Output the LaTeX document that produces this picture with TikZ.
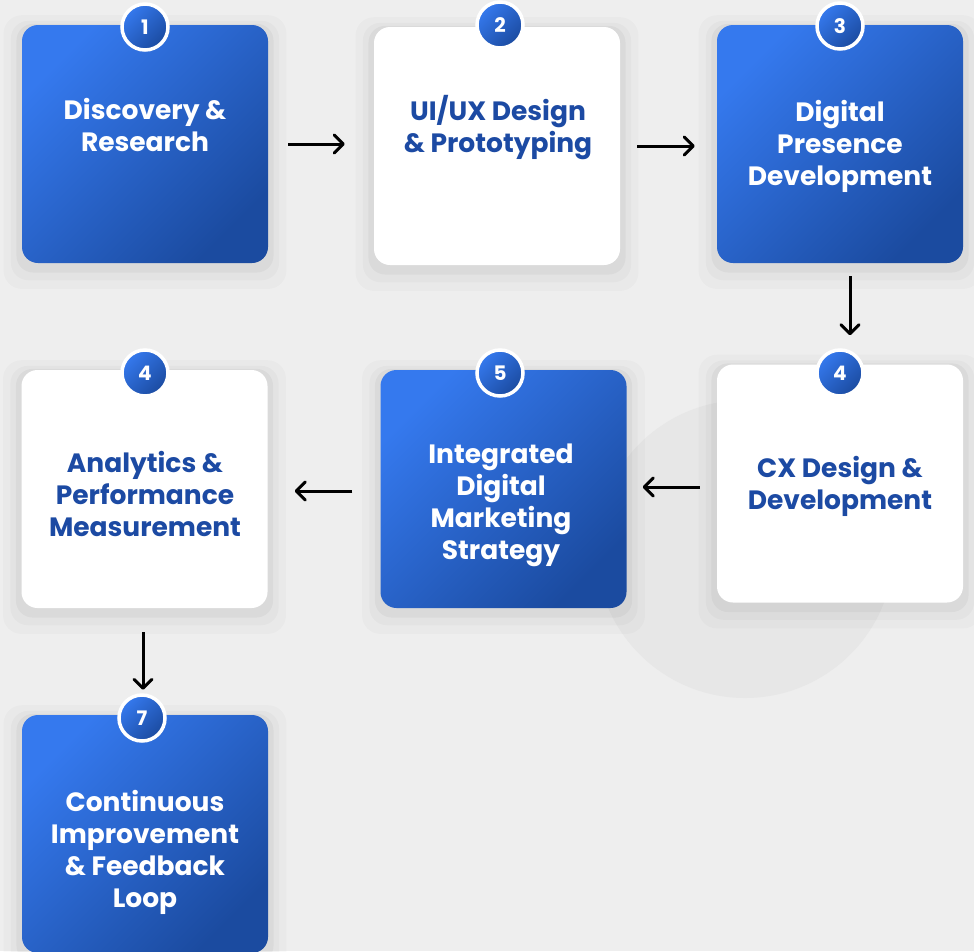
\documentclass[tikz,border=0pt]{standalone}
\usepackage{fontspec}
\setmainfont{Poppins}
\usetikzlibrary{positioning,shadows,arrows.meta}

\definecolor{lightblue}{HTML}{3579EE}
\definecolor{darkblue}{HTML}{1B4BA0}
\definecolor{textblue}{HTML}{1C4AA3}
\definecolor{bggray}{HTML}{EEEEEE}
\definecolor{ringgray}{HTML}{E7E7E7}

\tikzset{
  softshadow/.style={
    general shadow={fill=black, opacity=0.02, shadow yshift=-7pt, shadow scale=1.15},
    general shadow={fill=black, opacity=0.025, shadow yshift=-6pt, shadow scale=1.09},
    general shadow={fill=black, opacity=0.035, shadow yshift=-4pt, shadow scale=1.045}},
  card/.style={minimum width=246pt, minimum height=238pt, rounded corners=16pt, inner sep=0pt, softshadow},
  bluecard/.style={card, top color=lightblue, middle color=darkblue!80!lightblue, bottom color=darkblue, shading angle=45},
  whitecard/.style={card, fill=white},
  badge/.style={circle, minimum size=46pt, inner sep=0pt, draw=white, line width=3.5pt,
    top color=lightblue, bottom color=darkblue, shading angle=45,
    text=white, font=\bfseries\fontsize{20}{20}\selectfont},
  cardtext/.style={align=center, text=white, font=\bfseries\fontsize{26.5}{32}\selectfont},
  darktext/.style={cardtext, text=textblue},
  flow/.style={-{Straight Barb[length=9pt,width=18pt,round]}, line width=3pt, black}
}

\begin{document}
\begin{tikzpicture}[x=1pt,y=-1pt]
\useasboundingbox[fill=bggray] (0,0) rectangle (974,951);
\fill[ringgray] (745,549) circle (149);

% cards
\node[bluecard] (discovery) at (145,144) {};
\node[whitecard] (uiux) at (497,146) {};
\node[bluecard] (presence) at (840,144) {};
\node[whitecard] (cx) at (840,483.5) {};
\node[bluecard] (marketing) at (503.5,489) {};
\node[whitecard] (analytics) at (144.5,489) {};
\node[bluecard] (loop) at (145,834) {};

% texts
\node[cardtext] (discoverytext) at (145,125) {Discovery \&\\Research};
\node[darktext] (uiuxtext) at (498,128) {UI/UX Design\\\& Prototyping};
\node[cardtext] (presencetext) at (840,146) {Digital\\Presence\\Development};
\node[darktext] (cxtext) at (840,486) {CX Design \&\\Development};
\node[cardtext] (marketingtext) at (501,505) {Integrated\\Digital\\Marketing\\Strategy};
\node[darktext] (analyticstext) at (145,494) {Analytics \&\\Performance\\Measurement};
\node[cardtext] (looptext) at (145,852) {Continuous\\Improvement\\\& Feedback\\Loop};

% badges
\node[badge] (n1) at (145,27) {1};
\node[badge] (n2) at (500,25) {2};
\node[badge] (n3) at (840,26) {3};
\node[badge] (n4a) at (840,373) {4};
\node[badge] (n5) at (500,373) {5};
\node[badge] (n4b) at (145,373) {4};
\node[badge] (n7) at (142,718) {7};

% arrows
\draw[flow, shorten <=20pt, shorten >=29pt] (discovery.east) -- (discovery.east -| uiux.west);
\draw[flow, shorten <=17pt, shorten >=22pt] (uiux.east) -- (uiux.east -| presence.west);
\draw[flow, shorten <=13pt, shorten >=29pt] ([xshift=10pt]presence.south) -- ([xshift=10pt]presence.south |- cx.north);
\draw[flow, shorten <=17pt, shorten >=16pt] ([yshift=-3.5pt]cx.west) -- ([yshift=-3.5pt]cx.west -| marketing.east);
\draw[flow, shorten <=28pt, shorten >=27pt] ([yshift=-2pt]marketing.west) -- ([yshift=-2pt]marketing.west -| analytics.east);
\draw[flow, shorten <=24pt, shorten >=25pt] ([xshift=-1.5pt]analytics.south) -- ([xshift=-1.5pt]analytics.south |- loop.north);
\end{tikzpicture}
\end{document}
